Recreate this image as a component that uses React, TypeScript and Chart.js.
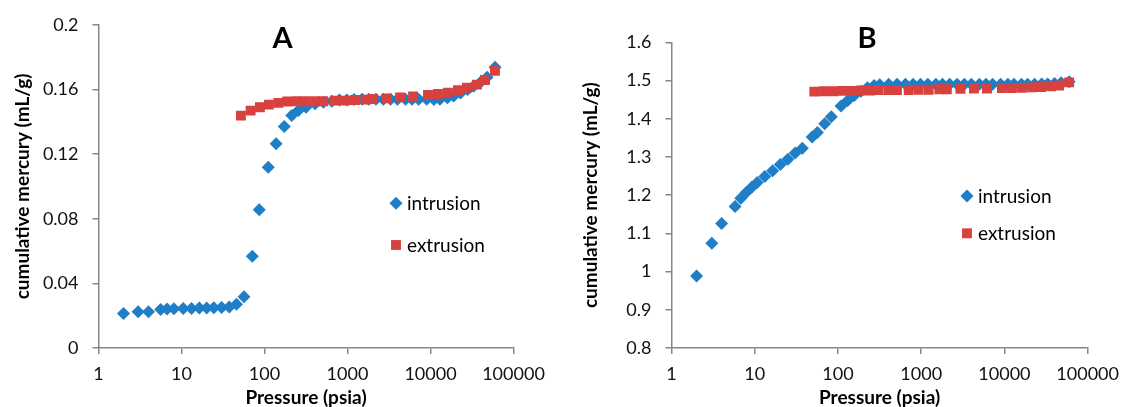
import React, { useEffect, useRef } from "react";
import { Chart, registerables } from "chart.js";

Chart.register(...registerables);

const FONT = "Lato, 'Open Sans', sans-serif";
const BLUE = "#1f7ec6";
const RED = "#d8413e";
const AXIS = "#868686";

// x-axis decade ticks (psia)
const xTickValues = [1, 10, 100, 1000, 10000, 100000];

// ---------- Panel A ----------
const intrusionPressureA = [2, 3, 4, 5.6, 6.7, 8.1, 10.5, 13.2, 16.4, 20.1, 24.5, 30.4, 37.6, 46, 56.6, 71.3, 86.5, 111, 138, 173, 213, 256, 317, 407, 513, 647, 800, 981, 1200, 1500, 1800, 2200, 2700, 3300, 4000, 5000, 6000, 7200, 9000, 11000, 13000, 16000, 19000, 23000, 28000, 33000, 40000, 48000, 60000];
const intrusionValuesA = [0.0214, 0.0224, 0.0224, 0.0239, 0.0241, 0.0243, 0.0245, 0.0245, 0.0247, 0.0247, 0.0249, 0.0251, 0.0253, 0.027, 0.0317, 0.0568, 0.0856, 0.1119, 0.1264, 0.137, 0.1438, 0.1469, 0.149, 0.1511, 0.1521, 0.1527, 0.1535, 0.1535, 0.1538, 0.154, 0.154, 0.154, 0.154, 0.154, 0.154, 0.154, 0.154, 0.154, 0.154, 0.1538, 0.154, 0.1548, 0.156, 0.1578, 0.16, 0.162, 0.1645, 0.1675, 0.1737];
const extrusionPressureA = [52, 68, 88, 113, 147, 188, 244, 308, 406, 511, 707, 933, 1230, 1650, 2030, 2960, 4300, 6170, 9330, 12300, 16200, 21400, 27500, 36300, 45400, 59800];
const extrusionValuesA = [0.1438, 0.1469, 0.149, 0.1506, 0.1517, 0.1525, 0.1527, 0.1527, 0.1527, 0.1527, 0.1531, 0.1531, 0.1535, 0.1537, 0.1541, 0.1545, 0.1551, 0.1557, 0.1566, 0.1572, 0.158, 0.1595, 0.161, 0.163, 0.1658, 0.1716];
const yTicksA = [0, 0.04, 0.08, 0.12, 0.16, 0.2];

// ---------- Panel B ----------
const intrusionPressureB = [2, 3.05, 4, 5.8, 6.8, 7.9, 9.2, 10.7, 13.2, 16.4, 20.3, 25, 30.6, 37.3, 49, 56.6, 69.3, 83.2, 109, 131, 157, 189, 226, 272, 317, 407, 513, 647, 800, 981, 1200, 1500, 1800, 2200, 2700, 3300, 4000, 5000, 6000, 7200, 9000, 11000, 13000, 16000, 19000, 23000, 28000, 33000, 40000, 48000, 60000];
const intrusionValuesB = [0.9885, 1.074, 1.126, 1.17, 1.192, 1.207, 1.221, 1.233, 1.249, 1.264, 1.28, 1.294, 1.31, 1.323, 1.352, 1.364, 1.387, 1.405, 1.433, 1.448, 1.461, 1.472, 1.481, 1.487, 1.489, 1.49, 1.49, 1.49, 1.49, 1.49, 1.49, 1.49, 1.49, 1.49, 1.49, 1.49, 1.49, 1.49, 1.49, 1.49, 1.49, 1.49, 1.49, 1.49, 1.49, 1.49, 1.491, 1.491, 1.492, 1.494, 1.497];
const extrusionPressureB = [52, 68, 88, 113, 147, 188, 244, 308, 406, 511, 707, 933, 1230, 1650, 2030, 2960, 4300, 6170, 9330, 12300, 16200, 21400, 27500, 36300, 45400, 59800];
const extrusionValuesB = [1.471, 1.472, 1.472, 1.473, 1.473, 1.474, 1.474, 1.475, 1.475, 1.475, 1.475, 1.476, 1.476, 1.477, 1.477, 1.478, 1.479, 1.479, 1.48, 1.48, 1.481, 1.482, 1.483, 1.485, 1.487, 1.495];
const yTicksB = [0.8, 0.9, 1, 1.1, 1.2, 1.3, 1.4, 1.5, 1.6];

const seriesNames = ["intrusion", "extrusion"];
const yTitle = "cumulative mercury (mL/g)";
const xTitle = "Pressure (psia)";

const toPoints = (xs: number[], ys: number[]) => xs.map((x, i) => ({ x, y: ys[i] }));

const overlayPlugin = {
  id: "overlay",
  afterDatasetsDraw(chart: any, _args: any, opts: any) {
    const ctx = chart.ctx;
    ctx.save();
    ctx.fillStyle = "#000";
    ctx.font = `bold 29px ${FONT}`;
    ctx.textAlign = "center";
    ctx.textBaseline = "middle";
    ctx.fillText(opts.title, opts.titleX, opts.titleY);

    ctx.font = `19px ${FONT}`;
    ctx.textAlign = "left";
    opts.legend.forEach((item: any) => {
      const ds = chart.data.datasets[item.index];
      const r = ds.pointRadius;
      ctx.fillStyle = ds.backgroundColor;
      ctx.beginPath();
      if (ds.pointStyle === "rectRot") {
        ctx.moveTo(item.x, item.y - r);
        ctx.lineTo(item.x + r, item.y);
        ctx.lineTo(item.x, item.y + r);
        ctx.lineTo(item.x - r, item.y);
        ctx.closePath();
      } else {
        const s = r * Math.SQRT1_2;
        ctx.rect(item.x - s, item.y - s, 2 * s, 2 * s);
      }
      ctx.fill();
      ctx.fillStyle = "#000";
      ctx.fillText(ds.label, item.x + 11, item.y + 1);
    });
    ctx.restore();
  },
};

function makeConfig(p: any) {
  return {
    type: "scatter",
    data: {
      datasets: [
        {
          label: seriesNames[0],
          data: toPoints(p.ix, p.iy),
          pointStyle: "rectRot",
          pointRadius: 6.5,
          backgroundColor: BLUE,
          borderColor: BLUE,
          borderWidth: 0,
          order: 1,
        },
        {
          label: seriesNames[1],
          data: toPoints(p.ex, p.ey),
          pointStyle: "rect",
          pointRadius: 7,
          backgroundColor: RED,
          borderColor: RED,
          borderWidth: 0,
          order: 0,
        },
      ],
    },
    options: {
      responsive: false,
      animation: false,
      events: [],
      layout: { padding: p.padding },
      plugins: {
        legend: { display: false },
        tooltip: { enabled: false },
        overlay: { title: p.title, titleX: p.titleX, titleY: p.titleY, legend: p.legend },
      },
      scales: {
        x: {
          type: "logarithmic",
          min: 1,
          max: 100000,
          afterBuildTicks: (scale: any) => {
            scale.ticks = xTickValues.map((v) => ({ value: v }));
          },
          afterFit: (scale: any) => {
            scale.height = 59;
          },
          ticks: {
            autoSkip: false,
            maxRotation: 0,
            padding: 9,
            color: "#111",
            font: { family: FONT, size: 18 },
            callback: (v: any) => String(v),
          },
          grid: { drawOnChartArea: false, drawTicks: true, tickLength: 6, color: AXIS, lineWidth: 1.5 },
          border: { display: true, color: AXIS, width: 1.5 },
          title: {
            display: true,
            text: xTitle,
            color: "#000",
            font: { family: FONT, size: 19, weight: "bold", lineHeight: 1 },
            padding: { top: 0, bottom: 0 },
          },
        },
        y: {
          type: "linear",
          min: p.ymin,
          max: p.ymax,
          afterBuildTicks: (scale: any) => {
            scale.ticks = p.yTicks.map((v: number) => ({ value: v }));
          },
          afterFit: (scale: any) => {
            scale.width = p.yWidth;
          },
          ticks: {
            padding: 14,
            color: "#111",
            font: { family: FONT, size: 18 },
            callback: (v: any) => String(Number(Number(v).toFixed(2))),
          },
          grid: { drawOnChartArea: false, drawTicks: true, tickLength: 6, color: AXIS, lineWidth: 1.5 },
          border: { display: true, color: AXIS, width: 1.5 },
          title: {
            display: true,
            text: yTitle,
            color: "#000",
            font: { family: FONT, size: 19, weight: "bold", lineHeight: 1 },
            padding: { top: p.yTitlePad, bottom: 0 },
          },
        },
      },
    },
    plugins: [overlayPlugin],
  };
}

const panelA = {
  ix: intrusionPressureA,
  iy: intrusionValuesA,
  ex: extrusionPressureA,
  ey: extrusionValuesA,
  yTicks: yTicksA,
  ymin: 0,
  ymax: 0.2,
  yWidth: 98.5,
  yTitlePad: 13,
  padding: { left: 0, right: 46.5, top: 24, bottom: 0 },
  title: "A",
  titleX: 282.5,
  titleY: 39,
  legend: [
    { index: 0, x: 396, y: 203.3 },
    { index: 1, x: 396, y: 245 },
  ],
};

const panelB = {
  ix: intrusionPressureB,
  iy: intrusionValuesB,
  ex: extrusionPressureB,
  ey: extrusionValuesB,
  yTicks: yTicksB,
  ymin: 0.8,
  ymax: 1.6,
  yWidth: 111.5,
  yTitlePad: 21,
  padding: { left: 0, right: 34.7, top: 42.3, bottom: 0 },
  title: "B",
  titleX: 307,
  titleY: 38.5,
  legend: [
    { index: 0, x: 407, y: 196 },
    { index: 1, x: 407, y: 233.3 },
  ],
};

function Panel({ cfg, left, width }: { cfg: any; left: number; width: number }) {
  const ref = useRef<HTMLCanvasElement | null>(null);
  useEffect(() => {
    if (!ref.current) return;
    const chart = new Chart(ref.current, makeConfig(cfg) as any);
    return () => chart.destroy();
  }, [cfg]);
  return (
    <canvas
      ref={ref}
      width={width}
      height={407}
      style={{ position: "absolute", left, top: 0, width, height: 407 }}
    />
  );
}

export default function App() {
  return (
    <div style={{ position: "fixed", left: 0, top: 0, width: 1128, height: 407, background: "#fff", overflow: "hidden" }}>
      <Panel cfg={panelA} left={0} width={560} />
      <Panel cfg={panelB} left={560} width={568} />
    </div>
  );
}
